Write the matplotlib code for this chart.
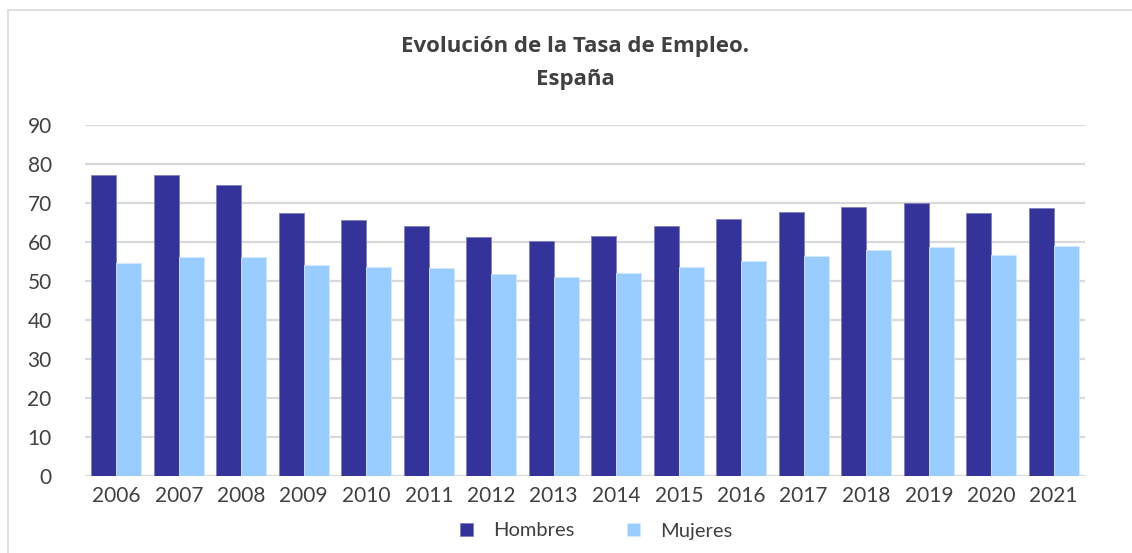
import matplotlib.pyplot as plt
import numpy as np
from matplotlib.lines import Line2D

# --- data ---
years = ['2006', '2007', '2008', '2009', '2010', '2011', '2012', '2013',
         '2014', '2015', '2016', '2017', '2018', '2019', '2020', '2021']
hombres = [77.3, 77.3, 74.5, 67.5, 65.7, 64.2, 61.2, 60.2,
           61.5, 64.0, 65.9, 67.6, 69.1, 69.9, 67.4, 68.7]
mujeres = [54.5, 56.1, 56.1, 54.0, 53.5, 53.3, 51.8, 51.0,
           52.0, 53.5, 55.1, 56.5, 57.9, 58.8, 56.7, 58.9]
yticks = [0, 10, 20, 30, 40, 50, 60, 70, 80, 90]

plt.rcParams['font.family'] = ['Lato', 'DejaVu Sans']

fig = plt.figure(figsize=(11.32, 5.53), dpi=100)
ax = fig.add_axes([85 / 1132, 1 - 476 / 553, 1000 / 1132, 351 / 553])

x = np.arange(len(years))
width = 0.4
ax.bar(x - width / 2, hombres, width, color='#333399', edgecolor='#8080c0',
       linewidth=0.6, label='Hombres', zorder=3)
ax.bar(x + width / 2, mujeres, width, color='#99ccff', edgecolor='#d0e8ff',
       linewidth=0.6, label='Mujeres', zorder=3)

ax.set_xlim(-0.5, len(years) - 0.5)
ax.set_ylim(0, 90)
ax.set_yticks(yticks)
ax.set_xticks(x)
ax.set_xticklabels(years)
ax.yaxis.grid(True, color='#d9d9d9', linewidth=1.6, zorder=0)
ax.tick_params(axis='both', length=0, labelsize=15, colors='#404040')
ax.tick_params(axis='y', pad=24)
ax.tick_params(axis='x', pad=7)
for s in ax.spines.values():
    s.set_visible(False)

title_font = ['Open Sans', 'DejaVu Sans']
fig.text(0.508, 1 - 47 / 553, 'Evolución de la Tasa de Empleo.', ha='center', va='center',
         fontsize=16, fontweight='bold', color='#404040', family=title_font)
fig.text(0.508, 1 - 80 / 553, 'España', ha='center', va='center',
         fontsize=16, fontweight='bold', color='#404040', family=title_font)

fig.legend(loc='center', bbox_to_anchor=(0.5265, 1 - 531 / 553), ncol=2, frameon=False,
           fontsize=14.5, handlelength=0.65, handleheight=0.65, columnspacing=2.6,
           handletextpad=1.0, labelcolor='#404040')

# light frame (top and left edges only are visible in the crop)
fx, fy = 8 / 1132, 1 - 10 / 553
fig.lines.append(Line2D([fx, 1], [fy, fy], transform=fig.transFigure,
                        color='#d9d9d9', linewidth=1.2))
fig.lines.append(Line2D([fx, fx], [0, fy], transform=fig.transFigure,
                        color='#d9d9d9', linewidth=1.2))

fig.savefig('out.png', dpi=100)
